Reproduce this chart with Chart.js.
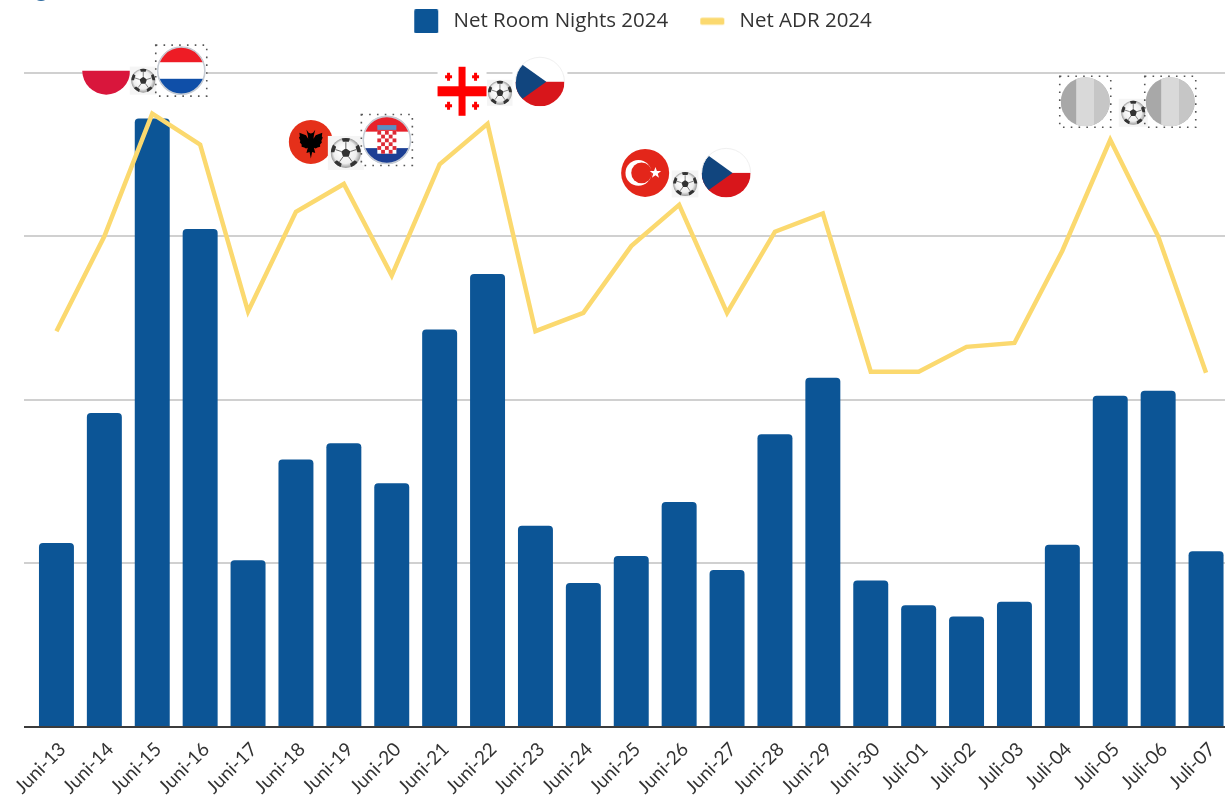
<!DOCTYPE html>
<html>
<head>
<meta charset="utf-8">
<title>Net Room Nights / Net ADR 2024</title>
<script src="https://cdn.jsdelivr.net/npm/chart.js@4"></script>
<style>
  html, body { margin: 0; padding: 0; background: #fff; overflow: hidden; }
  #wrap { position: relative; width: 1225px; height: 798px; overflow: hidden; }
  canvas { position: absolute; left: 0; top: 0; }
</style>
</head>
<body>
<div id="wrap"><canvas id="chart" width="1249" height="798"></canvas></div>
<script>
const days = ['Juni-13','Juni-14','Juni-15','Juni-16','Juni-17','Juni-18','Juni-19','Juni-20','Juni-21','Juni-22','Juni-23','Juni-24','Juni-25','Juni-26','Juni-27','Juni-28','Juni-29','Juni-30','Juli-01','Juli-02','Juli-03','Juli-04','Juli-05','Juli-06','Juli-07'];
const roomNights = [225,384,744,609,204,327,347,298,486,554,246,176,209,275,192,358,427,179,149,135,153,223,405,411,215];
const adr = [121,150,187.5,178,127,157.5,166,138,172,184.4,121,126.6,147,159.6,126.6,151.4,157,108.6,108.6,116.2,117.4,145.6,179.5,150,108.3];
const nightTicks = [0,200,400,600,800];
const matchDays = ['Juni-15','Juni-19','Juni-22','Juni-26','Juli-05'];

const barColor = '#0c5596';
const lineColor = '#fbd96f';

// Legend swatch as a small canvas, the blank sides set the gaps around it
function legendSwatch(color, h) {
  const c = document.createElement('canvas');
  c.width = 50;
  c.height = 24;
  const g = c.getContext('2d');
  g.fillStyle = color;
  g.beginPath();
  g.roundRect(21, (24 - h) / 2, 24, h, 1.5);
  g.fill();
  return c;
}

// Flags and footballs, placed relative to the line point of the match day
function ballIcon(ctx, x, y, r, boxW, boxH) {
  ctx.save();
  ctx.fillStyle = '#f5f5f5';
  ctx.fillRect(x - boxW / 2, y - boxH / 2, boxW, boxH);
  const g = ctx.createRadialGradient(x - r * .2, y - r * .2, r * .2, x, y, r);
  g.addColorStop(0, '#ffffff');
  g.addColorStop(.7, '#eeeeee');
  g.addColorStop(1, '#9a9a9a');
  ctx.fillStyle = g;
  ctx.beginPath(); ctx.arc(x, y, r, 0, Math.PI * 2); ctx.fill();
  ctx.clip();
  ctx.fillStyle = '#333';
  ctx.strokeStyle = '#555';
  ctx.lineWidth = Math.max(.6, r * .06);
  const pent = (cx, cy, s, rot) => {
    ctx.beginPath();
    for (let i = 0; i < 5; i++) {
      const a = rot + i * Math.PI * 2 / 5;
      ctx.lineTo(cx + Math.cos(a) * s, cy + Math.sin(a) * s);
    }
    ctx.closePath(); ctx.fill();
  };
  pent(x, y, r * .32, -Math.PI / 2);
  for (let i = 0; i < 5; i++) {
    const a = -Math.PI / 2 + i * Math.PI * 2 / 5;
    ctx.beginPath();
    ctx.moveTo(x + Math.cos(a) * r * .32, y + Math.sin(a) * r * .32);
    ctx.lineTo(x + Math.cos(a) * r * .72, y + Math.sin(a) * r * .72);
    ctx.stroke();
    pent(x + Math.cos(a) * r * 1.02, y + Math.sin(a) * r * 1.02, r * .34, a);
  }
  ctx.restore();
}

function roundClip(ctx, x, y, r) {
  ctx.beginPath(); ctx.arc(x, y, r, 0, Math.PI * 2); ctx.clip();
}

function dottedBox(ctx, x, y, half) {
  ctx.save();
  ctx.strokeStyle = '#555';
  ctx.lineWidth = 1.6;
  ctx.setLineDash([1.6, 6.2]);
  ctx.strokeRect(x - half, y - half, half * 2, half * 2);
  ctx.restore();
}

function stripes(ctx, x, y, r, top, mid, bottom) {
  ctx.fillStyle = top; ctx.fillRect(x - r, y - r, r * 2, r * 2 * .33);
  ctx.fillStyle = mid; ctx.fillRect(x - r, y - r + r * 2 * .33, r * 2, r * 2 * .34);
  ctx.fillStyle = bottom; ctx.fillRect(x - r, y - r + r * 2 * .67, r * 2, r * 2 * .33);
}

function poland(ctx, x, y, r) {
  ctx.save();
  ctx.fillStyle = '#fff';
  ctx.fillRect(x - r, y - r, r * 2, r);
  ctx.fillStyle = '#d9163c';
  ctx.beginPath(); ctx.arc(x, y, r, 0, Math.PI); ctx.closePath(); ctx.fill();
  ctx.restore();
}

function ringFlag(ctx, x, y, r, draw) {
  ctx.save();
  ctx.fillStyle = '#fff';
  ctx.fillRect(x - r - 1, y - r - 1, r * 2 + 2, r * 2 + 2);
  ctx.save();
  roundClip(ctx, x, y, r);
  draw();
  ctx.restore();
  ctx.strokeStyle = '#c6ccd4';
  ctx.lineWidth = 1.6;
  ctx.beginPath(); ctx.arc(x, y, r - .4, 0, Math.PI * 2); ctx.stroke();
  ctx.restore();
  dottedBox(ctx, x, y, r + 1.5);
}

function netherlands(ctx, x, y, r) {
  ringFlag(ctx, x, y, r, () => stripes(ctx, x, y, r, '#ee1c25', '#ffffff', '#0f4fa8'));
}

function croatia(ctx, x, y, r) {
  ringFlag(ctx, x, y, r, () => {
    stripes(ctx, x, y, r, '#e8212b', '#ffffff', '#1c3f94');
    const c = r / 6.3;
    ctx.fillStyle = '#fff';
    ctx.fillRect(x - c * 2.5, y - r * .38, c * 5, c * 6);
    for (let i = 0; i < 6; i++) {
      for (let j = 0; j < 5; j++) {
        if ((i + j) % 2) continue;
        ctx.fillStyle = '#dd2a35';
        ctx.fillRect(x - c * 2.5 + j * c, y - r * .38 + i * c, c, c);
      }
    }
    ctx.fillStyle = '#5b8fc4';
    ctx.fillRect(x - c * 2.5, y - r * .62, c * 5, r * .2);
  });
}

function albania(ctx, x, y, r) {
  const half = [[0,-.38],[.1,-.42],[.2,-.55],[.14,-.3],[.12,-.15],[.22,-.3],[.52,-.42],[.5,-.25],[.54,-.2],[.48,-.05],[.5,.02],[.42,.12],[.42,.22],[.3,.25],[.22,.3],[.14,.26],[.2,.5],[.06,.46],[0,.75]];
  ctx.save();
  ctx.fillStyle = '#e5301a';
  ctx.beginPath(); ctx.arc(x, y, r, 0, Math.PI * 2); ctx.fill();
  ctx.fillStyle = '#000';
  ctx.beginPath();
  half.forEach(([dx, dy]) => ctx.lineTo(x + dx * r, y + dy * r));
  half.slice().reverse().forEach(([dx, dy]) => ctx.lineTo(x - dx * r, y + dy * r));
  ctx.closePath(); ctx.fill();
  ctx.restore();
}

function georgia(ctx, x, y, half) {
  ctx.save();
  ctx.fillStyle = '#fff';
  ctx.fillRect(x - half, y - half, half * 2, half * 2);
  ctx.fillStyle = '#ff0000';
  ctx.fillRect(x - half, y - 5, half * 2, 10);
  ctx.fillRect(x - 3.5, y - half, 7, half * 2);
  [[-13.5, -14.5], [13.5, -14.5], [-13.5, 14.5], [13.5, 14.5]].forEach(([dx, dy]) => {
    ctx.fillRect(x + dx - 1.5, y + dy - 4, 3, 8);
    ctx.fillRect(x + dx - 3.5, y + dy - 1.5, 7, 3);
  });
  ctx.restore();
}

function czech(ctx, x, y, r) {
  ctx.save();
  ctx.fillStyle = '#fff';
  ctx.fillRect(x - r - 3, y - r - 3, r * 2 + 6, r * 2 + 6);
  ctx.save();
  roundClip(ctx, x, y, r);
  ctx.fillStyle = '#d8161b';
  ctx.fillRect(x - r, y, r * 2, r);
  ctx.fillStyle = '#11457e';
  ctx.beginPath();
  ctx.moveTo(x - r, y - r * .9);
  ctx.lineTo(x + r * .26, y);
  ctx.lineTo(x - r, y + r * .9);
  ctx.closePath(); ctx.fill();
  ctx.restore();
  ctx.strokeStyle = '#f0f0f0';
  ctx.lineWidth = 1;
  ctx.beginPath(); ctx.arc(x, y, r, Math.PI, Math.PI * 2); ctx.stroke();
  ctx.restore();
}

function turkey(ctx, x, y, r) {
  ctx.save();
  ctx.fillStyle = '#e3261a';
  ctx.beginPath(); ctx.arc(x, y, r, 0, Math.PI * 2); ctx.fill();
  ctx.fillStyle = '#fff';
  ctx.beginPath(); ctx.arc(x - r * .28, y, r * .54, 0, Math.PI * 2); ctx.fill();
  ctx.fillStyle = '#e3261a';
  ctx.beginPath(); ctx.arc(x - r * .15, y, r * .43, 0, Math.PI * 2); ctx.fill();
  ctx.fillStyle = '#fff';
  ctx.beginPath();
  for (let i = 0; i < 10; i++) {
    const a = -Math.PI / 2 + i * Math.PI / 5;
    const s = i % 2 ? r * .1 : r * .25;
    ctx.lineTo(x + r * .43 + Math.cos(a) * s, y + Math.sin(a) * s);
  }
  ctx.closePath(); ctx.fill();
  ctx.restore();
}

function unknownTeam(ctx, x, y, r) {
  ctx.save();
  roundClip(ctx, x, y, r);
  ctx.fillStyle = '#a8a8a8'; ctx.fillRect(x - r, y - r, r * 2, r * 2);
  ctx.fillStyle = '#c6c6c6'; ctx.fillRect(x + r * .37, y - r, r, r * 2);
  ctx.fillStyle = '#d9d9d9'; ctx.fillRect(x - r * .37, y - r, r * .74, r * 2);
  ctx.restore();
  dottedBox(ctx, x, y, r + 1);
}

const matchIcons = {
  id: 'matchIcons',
  afterDraw(chart) {
    const ctx = chart.ctx;
    const xs = chart.scales.x, ys = chart.scales.yAdr;
    const anchor = day => [xs.getPixelForValue(days.indexOf(day)), ys.getPixelForValue(adr[days.indexOf(day)])];

    // small bit of a logo cut off at the top edge
    ctx.fillStyle = '#2d6a9f';
    ctx.beginPath(); ctx.arc(41, -8, 9, 0, Math.PI * 2); ctx.fill();

    let [x, y] = anchor(matchDays[0]);
    poland(ctx, x - 46, y - 43, 24);
    ballIcon(ctx, x - 9, y - 33, 12, 27, 28);
    netherlands(ctx, x + 29, y - 43, 24);

    [x, y] = anchor(matchDays[1]);
    albania(ctx, x - 33, y - 42, 22);
    ballIcon(ctx, x + 2, y - 31, 15, 36, 34);
    croatia(ctx, x + 43, y - 44, 24);

    [x, y] = anchor(matchDays[2]);
    georgia(ctx, x - 25.5, y - 32.5, 24.5);
    ballIcon(ctx, x + 12.4, y - 31, 12, 26, 26);
    czech(ctx, x + 52.4, y - 42, 24.5);

    [x, y] = anchor(matchDays[3]);
    turkey(ctx, x - 34, y - 32, 24);
    ballIcon(ctx, x + 6, y - 21, 12, 27, 27);
    czech(ctx, x + 47, y - 32, 24.5);

    [x, y] = anchor(matchDays[4]);
    unknownTeam(ctx, x - 25, y - 38, 24.5);
    ballIcon(ctx, x + 23, y - 27, 12, 29, 28);
    unknownTeam(ctx, x + 60, y - 38, 24.5);
  }
};

new Chart(document.getElementById('chart'), {
  data: {
    labels: days,
    datasets: [
      {
        type: 'line',
        label: 'Net ADR 2024',
        data: adr,
        yAxisID: 'yAdr',
        borderColor: lineColor,
        backgroundColor: lineColor,
        borderWidth: 4.5,
        pointRadius: 0,
        tension: 0,
        order: 1
      },
      {
        type: 'bar',
        label: 'Net Room Nights 2024',
        data: roomNights,
        yAxisID: 'y',
        backgroundColor: barColor,
        borderWidth: 0,
        barPercentage: 0.73,
        categoryPercentage: 1,
        borderRadius: { topLeft: 4, topRight: 4 },
        order: 2
      }
    ]
  },
  options: {
    responsive: false,
    animation: false,
    layout: { padding: { left: 16, right: 0, top: 0, bottom: 0 } },
    plugins: {
      tooltip: { enabled: false },
      legend: {
        position: 'top',
        reverse: true,
        labels: {
          usePointStyle: true,
          boxWidth: 50,
          boxHeight: 24,
          pointStyleWidth: 50,
          padding: 11,
          color: '#333333',
          font: { family: '"Open Sans"', size: 20.5 },
          generateLabels(chart) {
            return Chart.defaults.plugins.legend.labels.generateLabels(chart).map(item => {
              item.pointStyle = item.text === 'Net ADR 2024' ? legendSwatch(lineColor, 7) : legendSwatch(barColor, 24);
              return item;
            });
          }
        }
      }
    },
    scales: {
      x: {
        grid: { display: false, drawTicks: false },
        border: { display: false },
        afterFit(scale) { scale.height = 71; },
        ticks: {
          autoSkip: false,
          maxRotation: 45,
          minRotation: 45,
          padding: 11,
          labelOffset: 6,
          color: '#333333',
          font: { family: 'Lato', size: 19 }
        }
      },
      y: {
        min: 0,
        max: 838.2,
        afterBuildTicks(scale) { scale.ticks = nightTicks.map(value => ({ value })); },
        afterFit(scale) { scale.width = 16.5; },
        border: { display: false },
        grid: {
          color: ctx => ctx.tick && ctx.tick.value === 0 ? '#3c3c3c' : '#d0d0d0',
          tickColor: ctx => ctx.tick && ctx.tick.value === 0 ? '#3c3c3c' : '#d0d0d0',
          lineWidth: 2,
          tickLength: 8.5
        },
        ticks: { display: false }
      },
      yAdr: {
        position: 'right',
        min: 0,
        max: 209.55,
        afterFit(scale) { scale.width = 19; },
        border: { display: false },
        grid: { display: false, drawTicks: false },
        ticks: { display: false }
      }
    }
  },
  plugins: [matchIcons]
});
</script>
</body>
</html>
